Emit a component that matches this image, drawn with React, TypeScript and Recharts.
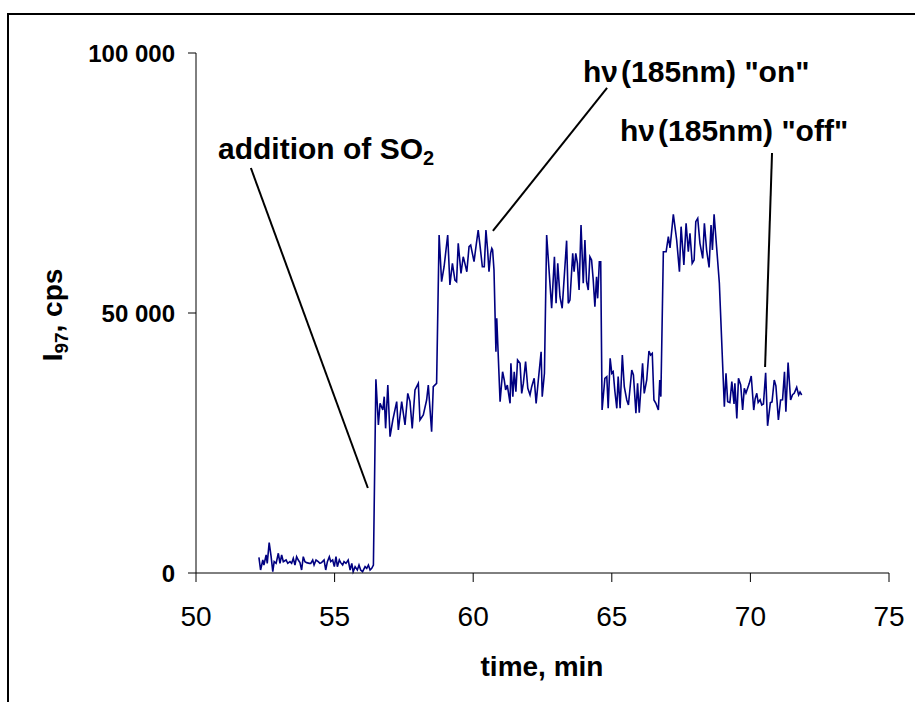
import React from 'react';
import { LineChart, Line, XAxis, YAxis, ReferenceLine } from 'recharts';

const FONT = '"Liberation Sans", Arial, Helvetica, sans-serif';

// [time (min), I97 (cps)], one array per stage
const baseline: [number, number][] = [
  [52.27, 3010], [52.33, 580], [52.41, 2500], [52.45, 1540], [52.53, 3470], [52.57, 1860],
  [52.64, 5830], [52.71, 3140], [52.77, 250], [52.82, 2180], [52.89, 1860], [52.97, 3790],
  [53.03, 1860], [53.09, 3470], [53.15, 2180], [53.25, 2500], [53.31, 1860], [53.39, 2180],
  [53.45, 1860], [53.51, 2820], [53.57, 1540], [53.63, 3140], [53.69, 2500], [53.75, 1990],
  [53.81, 580], [53.87, 3140], [53.93, 2180], [53.99, 1990], [54.09, 1860], [54.14, 1860],
  [54.21, 2500], [54.26, 1540], [54.33, 2500], [54.41, 2180], [54.47, 1860], [54.53, 1990],
  [54.62, 2500], [54.68, 580], [54.74, 2180], [54.81, 3140], [54.86, 2180], [54.93, 2500],
  [54.99, 1220], [55.05, 3140], [55.1, 1220], [55.17, 2500], [55.22, 1990], [55.29, 1540],
  [55.34, 2180], [55.41, 1860], [55.49, 2500], [55.56, 580], [55.62, 1860], [55.67, 250],
  [55.74, 1220], [55.82, 580], [55.88, 1540], [55.94, 580], [56.01, 250], [56.1, 1220],
  [56.16, 900], [56.22, 1540], [56.28, 580], [56.34, 900], [56.4, 1540],
];

const withSO2: [number, number][] = [
  [56.49, 37250], [56.58, 28460], [56.64, 32630], [56.74, 31340], [56.79, 33910], [56.84, 27820],
  [56.92, 36150], [57.0, 26210], [57.1, 29420], [57.24, 32950], [57.3, 27500], [57.42, 32950],
  [57.54, 28460], [57.64, 34550], [57.72, 32950], [57.8, 27820], [57.9, 35190], [58.02, 36470],
  [58.08, 29420], [58.2, 30380], [58.32, 33270], [58.38, 36150], [58.5, 27170], [58.56, 35830],
  [58.68, 36470],
];

const lampOn1: [number, number][] = [
  [58.77, 65000], [58.86, 56020], [58.95, 58900], [59.08, 65000], [59.16, 55380], [59.25, 59550],
  [59.34, 56340], [59.4, 56020], [59.46, 63400], [59.56, 57630], [59.64, 60820], [59.7, 59550],
  [59.77, 57940], [59.85, 62750], [59.91, 63070], [60.03, 59870], [60.1, 62750], [60.18, 65960],
  [60.25, 62750], [60.33, 58900], [60.4, 58900], [60.46, 65960], [60.52, 62110], [60.57, 57940],
  [60.63, 61480], [60.67, 62430], [60.7, 62110], [60.75, 58270], [60.82, 42550], [60.85, 48980],
];

const lampOff1: [number, number][] = [
  [60.97, 32950], [61.06, 38710], [61.12, 37120], [61.17, 35190], [61.23, 36150], [61.33, 32630],
  [61.36, 40320], [61.43, 33910], [61.48, 38710], [61.54, 34870], [61.6, 40960], [61.69, 40320],
  [61.75, 34550], [61.81, 36500], [61.89, 40640], [61.97, 35510], [62.05, 34230], [62.11, 35830],
  [62.2, 37440], [62.27, 32630], [62.35, 37120], [62.45, 42550], [62.49, 33910], [62.57, 38400],
];

const lampOn2: [number, number][] = [
  [62.65, 65000], [62.83, 50900], [62.93, 60820], [62.99, 51860], [63.05, 59550], [63.13, 53130],
  [63.21, 50900], [63.37, 63910], [63.43, 51860], [63.49, 52500], [63.59, 61480], [63.64, 57940],
  [63.7, 61480], [63.76, 59550], [63.82, 54420], [63.89, 66920], [63.97, 55710], [64.03, 64040],
  [64.09, 56020], [64.15, 54420], [64.21, 60820], [64.27, 60190], [64.33, 56340], [64.39, 51200],
  [64.45, 56980], [64.49, 52820], [64.55, 59870], [64.6, 59870],
];

const lampOff2: [number, number][] = [
  [64.65, 31340], [64.75, 37440], [64.82, 37760], [64.87, 31670], [64.94, 41280], [65.0, 38400],
  [65.05, 38710], [65.11, 35000], [65.18, 31670], [65.23, 37760], [65.3, 31670], [65.38, 41920],
  [65.45, 35830], [65.54, 33270], [65.6, 32310], [65.72, 39040], [65.78, 38080], [65.87, 30710],
  [65.93, 36470], [65.99, 30830], [66.11, 40320], [66.17, 34550], [66.26, 37120], [66.34, 42690],
  [66.4, 41920], [66.46, 42250], [66.52, 33270], [66.59, 32630], [66.68, 31340], [66.73, 37120],
  [66.77, 33910],
];

const lampOn3: [number, number][] = [
  [66.86, 61790], [66.96, 61790], [67.04, 64680], [67.1, 62500], [67.22, 68980], [67.34, 64040],
  [67.44, 57940], [67.5, 66600], [67.6, 59230], [67.68, 67250], [67.76, 61790], [67.82, 65330],
  [67.9, 59550], [67.97, 60190], [68.03, 67560], [68.1, 68210], [68.18, 63400], [68.28, 60510],
  [68.34, 67250], [68.42, 62110], [68.51, 58780], [68.58, 66920], [68.63, 62110], [68.69, 68980],
  [68.78, 62750], [68.88, 55710],
];

const lampOff3: [number, number][] = [
  [69.06, 31980], [69.12, 38400], [69.18, 32950], [69.26, 32760], [69.33, 36800], [69.41, 32500],
  [69.44, 36470], [69.51, 29740], [69.57, 37440], [69.65, 36150], [69.72, 31340], [69.78, 35510],
  [69.84, 34600], [69.9, 35510], [69.96, 36470], [70.03, 37880], [70.12, 31340], [70.17, 33500],
  [70.23, 34550], [70.28, 32800], [70.35, 33300], [70.41, 32310], [70.47, 32500], [70.55, 38520],
  [70.62, 28300], [70.72, 32760], [70.78, 32900], [70.86, 37120], [70.92, 36000], [71.01, 29420],
  [71.09, 33270], [71.16, 33300], [71.23, 38710], [71.28, 31020], [71.36, 40450], [71.45, 33270],
  [71.52, 34300], [71.58, 34550], [71.67, 35700], [71.74, 34230], [71.79, 34800], [71.85, 34230],
];

const xTicks = [50, 55, 60, 65, 70, 75];
const yTicks = [0, 50000, 100000];

// pointer lines for the annotations, in data units
const pointerSO2 = [{ x: 51.98, y: 77880 }, { x: 56.2, y: 16350 }];
const pointerOn = [{ x: 64.83, y: 93270 }, { x: 60.71, y: 65770 }];
const pointerOff = [{ x: 70.78, y: 80770 }, { x: 70.53, y: 39620 }];

const data = [
  ...baseline, ...withSO2, ...lampOn1, ...lampOff1,
  ...lampOn2, ...lampOff2, ...lampOn3, ...lampOff3,
].map(([t, v]) => ({ t, v }));

const fmtY = (n: number) => (n === 0 ? '0' : `${n / 1000} 000`);

export default function App() {
  return (
    <div style={{ position: 'absolute', left: 0, top: 0, width: 915, height: 702, fontFamily: FONT, background: '#fff' }}>
      <div
        style={{
          position: 'absolute', left: 7, top: 13, width: 910, height: 700,
          borderTop: '2px solid #000', borderLeft: '2px solid #000',
        }}
      />
      <LineChart width={915} height={702} data={data} margin={{ top: 53, right: 26, bottom: 69, left: 116 }}>
        <XAxis
          type="number"
          dataKey="t"
          domain={[50, 75]}
          ticks={xTicks}
          height={60}
          tickSize={9}
          tickMargin={24}
          axisLine={{ stroke: '#000' }}
          tickLine={{ stroke: '#000' }}
          tick={{ fontSize: 28, fill: '#000' }}
        />
        <YAxis
          type="number"
          domain={[0, 100000]}
          ticks={yTicks}
          width={80}
          tickSize={8}
          tickMargin={13}
          tickFormatter={fmtY}
          axisLine={{ stroke: '#000' }}
          tickLine={{ stroke: '#000' }}
          tick={{ fontSize: 24, fontWeight: 'bold', fill: '#000' }}
        />
        <ReferenceLine segment={pointerSO2} stroke="#000" strokeWidth={2} />
        <ReferenceLine segment={pointerOn} stroke="#000" strokeWidth={2} />
        <ReferenceLine segment={pointerOff} stroke="#000" strokeWidth={2} />
        <Line
          type="linear"
          dataKey="v"
          stroke="#000080"
          strokeWidth={1.6}
          dot={false}
          isAnimationActive={false}
        />
      </LineChart>
      <svg width={915} height={702} style={{ position: 'absolute', left: 0, top: 0, pointerEvents: 'none' }}>
        <g fontFamily={FONT} fontWeight="bold" fill="#000">
          <text x={542} y={676} fontSize={28} textAnchor="middle">time, min</text>
          <text transform="translate(62,315) rotate(-90)" fontSize={28} textAnchor="middle">
            I<tspan fontSize={19} dy={6}>97</tspan><tspan dy={-6}>, cps</tspan>
          </text>
          <text x={218} y={159} fontSize={30}>
            addition of SO<tspan fontSize={20} dy={6}>2</tspan>
          </text>
          <text x={583} y={82} fontSize={30}>
            hν<tspan dx={3}>(185nm) "on"</tspan>
          </text>
          <text x={620} y={141} fontSize={30}>
            hν<tspan dx={3}>(185nm) "off"</tspan>
          </text>
        </g>
      </svg>
    </div>
  );
}
